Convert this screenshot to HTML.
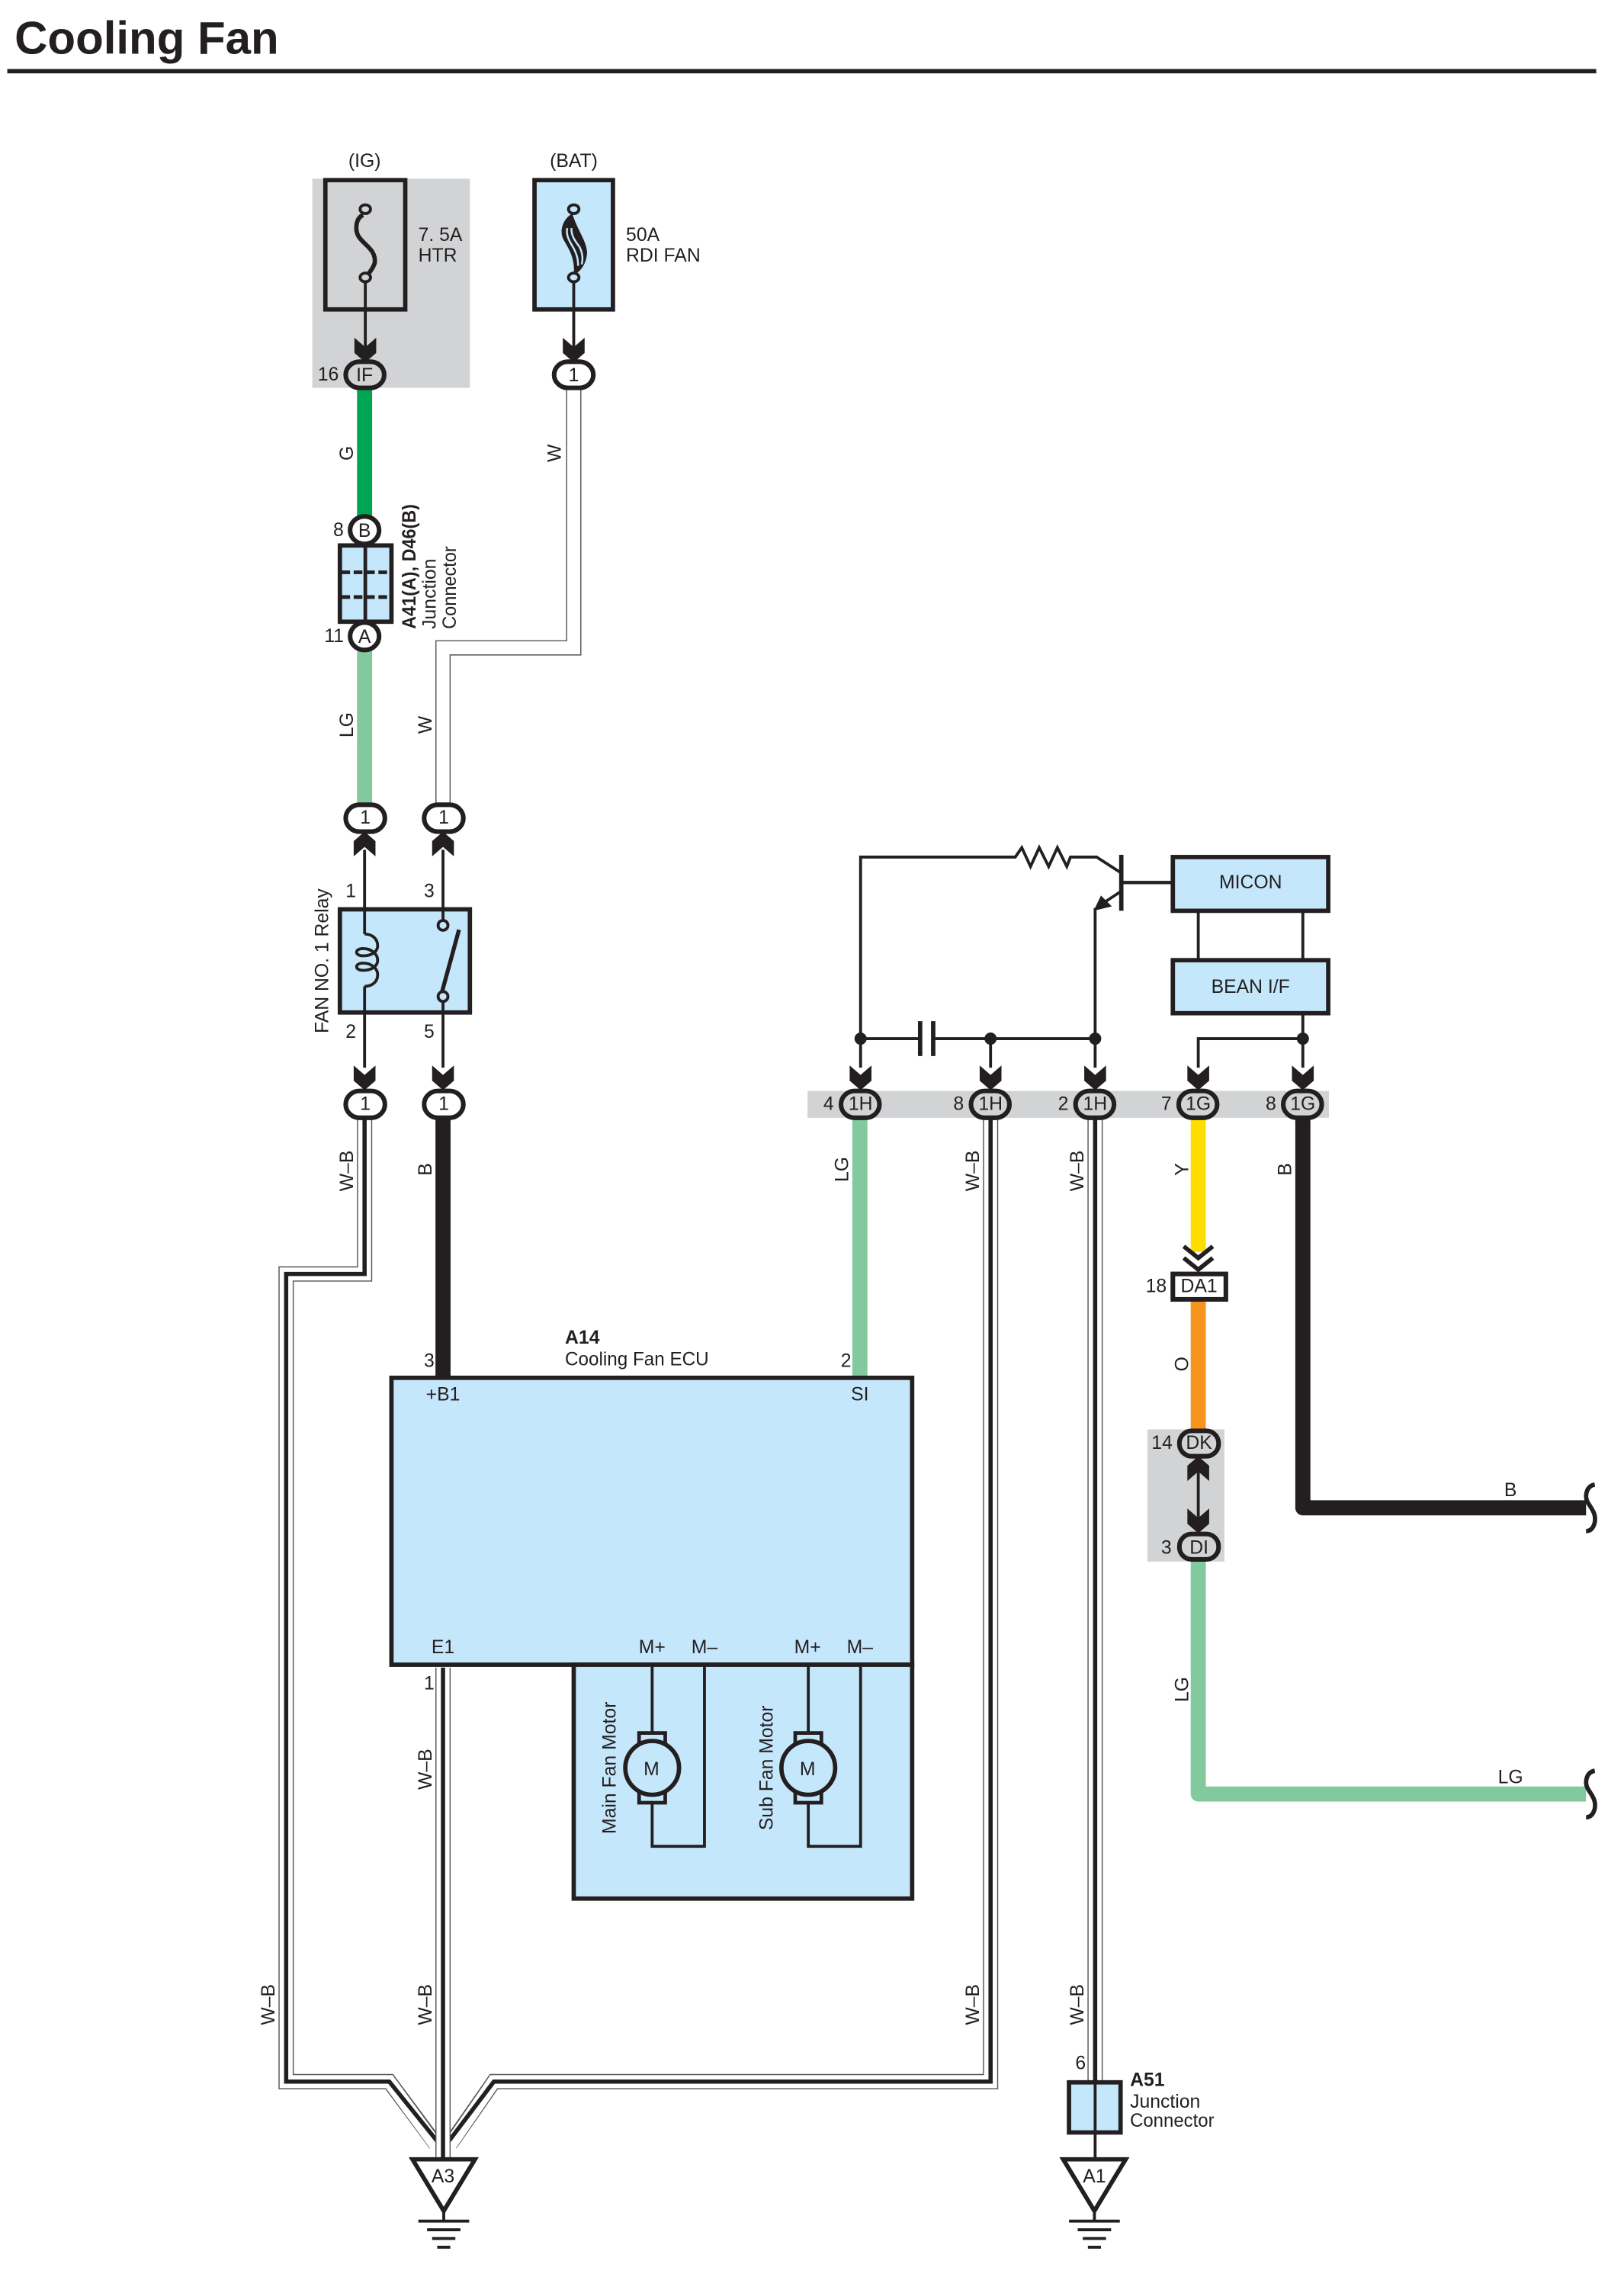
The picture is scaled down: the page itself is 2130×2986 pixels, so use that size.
<!DOCTYPE html>
<html><head><meta charset="utf-8"><title>Cooling Fan</title>
<style>
html,body{margin:0;padding:0;background:#fff;width:2130px;height:2986px;overflow:hidden}
svg{display:block}
text{font-family:"Liberation Sans",sans-serif;font-size:13px;fill:#231f20}
.m{text-anchor:middle}
.b{font-weight:bold}
.k{fill:none;stroke:#231f20;stroke-width:2}
.t{fill:none;stroke:#231f20;stroke-width:3}
.o{fill:none;stroke:#555;stroke-width:10.5;stroke-linejoin:miter}
.w{fill:none;stroke:#fff;stroke-width:9;stroke-linejoin:miter}
.c{fill:none;stroke:#231f20;stroke-width:2.9;stroke-linejoin:miter}
.bl{fill:#c5e7fb;stroke:#231f20;stroke-width:3}
.cn{fill:#fff;stroke:#231f20;stroke-width:3.2}
.cg{fill:#d1d3d4;stroke:#231f20;stroke-width:3.2}
</style></head><body>
<svg xmlns="http://www.w3.org/2000/svg" width="2130" height="2986" viewBox="0 0 1118.1 1567.5">
<defs>
<path id="ad" d="M-7.500,-15.500 L0,-9 L7.500,-15.500 L7.500,-5 L0,1.500 L-7.500,-5 Z" fill="#231f20"/>
<path id="au" d="M-7.500,15.500 L0,9 L7.500,15.500 L7.500,5 L0,-1.500 L-7.500,5 Z" fill="#231f20"/>
</defs>
<rect width="1118.1" height="1567.5" fill="#fff"/>
<!-- title -->
<text x="10" y="37" class="b" style="font-size:31.5px">Cooling Fan</text>
<rect x="5" y="47.5" width="1094" height="3" fill="#231f20"/>
<!-- gray backgrounds -->
<rect x="215" y="123" width="108.500" height="144" fill="#d1d3d4"/>
<rect x="556" y="751" width="359" height="18.500" fill="#d1d3d4"/>
<rect x="790" y="984" width="53" height="91" fill="#d1d3d4"/>
<!-- fat wires -->
<g fill="none" stroke-width="10.400">
<path d="M251,267V357" stroke="#00a651"/>
<path d="M251,447V553" stroke="#82c99d"/>
<path d="M305,770V950" stroke="#231f20"/>
<path d="M592,770V950" stroke="#82c99d"/>
<path d="M825,770V862" stroke="#ffdd00"/>
<path d="M825,895V985" stroke="#f7941d"/>
<path d="M825,1074V1235H1092" stroke="#82c99d" stroke-linejoin="round"/>
<path d="M897,770V1038H1092" stroke="#231f20" stroke-linejoin="round"/>
</g>
<!-- W wire -->
<path class="o" d="M395,268V446H305V553"/><path class="w" d="M395,268V446H305V553"/>
<!-- W-B wires -->
<path class="o" d="M251,770V877H197V1433H268L300,1476"/>
<path class="o" d="M682,770V1433H340L310,1476"/>
<path class="w" d="M251,769V877H197V1433H268L301,1478"/>
<path class="w" d="M682,769V1433H340L309,1478"/>
<path class="c" d="M251,770V877H197V1433H268L301,1474"/>
<path class="c" d="M682,770V1433H340L309,1474"/>
<path class="o" d="M305,1148V1486"/><path class="w" d="M305,1148V1486"/><path class="c" d="M305,1148V1486"/>
<path class="o" d="M754,770V1433"/><path class="w" d="M754,770V1433"/><path class="c" d="M754,770V1433"/>
<!-- fuses -->
<rect x="224" y="124" width="55" height="89" fill="#d1d3d4" stroke="#231f20" stroke-width="3"/>
<rect x="368" y="124" width="54" height="89" class="bl"/>
<path class="k" style="stroke-width:3" d="M250,148C245,150 244,158 247,163C251,169 259,172 258,181C257,184 255,187 253,189"/>
<ellipse cx="251.500" cy="144" rx="3.600" ry="3" fill="#d1d3d4" stroke="#231f20" stroke-width="2"/>
<ellipse cx="251.500" cy="191" rx="3.600" ry="3" fill="#d1d3d4" stroke="#231f20" stroke-width="2"/>
<path class="k" d="M251.500,194V245"/><use href="#ad" x="251.500" y="248"/>
<path d="M394,147C387,151 385,160 388,165C392,172 396,178 395,189C401,187 405,178 404,172C403,165 397,157 394,147Z" fill="#231f20"/>
<g fill="none" stroke="#c5e7fb" stroke-width="1.300">
<path d="M390.500,157C389.500,162 392,166 395,171C397,175 398,178 398,183"/>
<path d="M393.500,157C393,162 396,166 399,170C401,174 401.500,178 400.500,182"/>
</g>
<ellipse cx="395" cy="144" rx="3.600" ry="3" fill="#c5e7fb" stroke="#231f20" stroke-width="2"/>
<ellipse cx="395" cy="191" rx="3.600" ry="3" fill="#c5e7fb" stroke="#231f20" stroke-width="2"/>
<path class="k" d="M395,194V245"/><use href="#ad" x="395" y="248"/>
<rect x="238" y="249" width="26.500" height="18" rx="9.500" class="cg"/>
<rect x="381.500" y="249" width="27" height="18" rx="9.500" class="cn"/>
<!-- junction A41 -->
<rect x="234" y="375.500" width="35.500" height="52.500" class="bl"/>
<path class="k" style="stroke-width:2.500" d="M251.500,376V428"/>
<path class="k" d="M235,394H270M235,411H270" stroke-dasharray="6,2.500" style="stroke-width:2.500"/>
<ellipse cx="251" cy="365" rx="10" ry="9.500" class="cn"/>
<ellipse cx="251" cy="438" rx="10" ry="9.500" class="cn"/>
<!-- relay -->
<rect x="234" y="626" width="89.500" height="71" class="bl"/>
<path class="k" d="M251,585V643M251,679V735M305,585V634M305,690V735"/>
<path class="k" d="M251,643C257,643 260,647 260,651C260,655 256,658 250,658C244,658 244,653 250,653C256,653 260,657 260,661C260,665 256,668 250,668C244,668 244,663 250,663C256,663 260,667 260,671C260,676 256,679 251,679"/>
<path class="k" d="M316,640L304,684" style="stroke-width:2.800"/>
<circle cx="305" cy="637" r="3.400" fill="#c5e7fb" stroke="#231f20" stroke-width="2"/>
<circle cx="305" cy="686" r="3.400" fill="#c5e7fb" stroke="#231f20" stroke-width="2"/>
<use href="#au" x="251" y="574"/><use href="#au" x="305" y="574"/>
<use href="#ad" x="251" y="749"/><use href="#ad" x="305" y="749"/>
<rect x="238" y="554" width="27" height="18.500" rx="9.500" class="cn"/>
<rect x="292" y="554" width="27" height="18.500" rx="9.500" class="cn"/>
<rect x="238" y="751" width="27" height="18.500" rx="9.500" class="cn"/>
<rect x="292" y="751" width="27" height="18.500" rx="9.500" class="cn"/>
<!-- ECU -->
<rect x="269.500" y="948.500" width="358.500" height="197.500" class="bl"/>
<rect x="395" y="1146" width="233" height="161" class="bl"/>
<path class="k" d="M449,1147V1271H485V1147M556.500,1147V1271H592.500V1147"/>
<rect x="440" y="1193" width="18" height="48" fill="#c5e7fb" stroke="#231f20" stroke-width="2.500"/>
<circle cx="449" cy="1217" r="18.500" fill="#c5e7fb" stroke="#231f20" stroke-width="3"/>
<rect x="547.500" y="1193" width="18" height="48" fill="#c5e7fb" stroke="#231f20" stroke-width="2.500"/>
<circle cx="556.500" cy="1217" r="18.500" fill="#c5e7fb" stroke="#231f20" stroke-width="3"/>
<!-- control circuit -->
<path class="k" d="M592.500,735V590H699L703.500,583.500L709.500,596.500L715.500,583.500L722,596.500L728,583.500L734.500,596.500L737,590H755L772,601"/>
<path class="t" d="M772,588.500V627"/>
<path class="k" style="stroke-width:2.300" d="M772,607.500H807"/>
<path class="k" d="M772,613.500L756,624M754,625V735"/>
<path d="M753,627L758,616.500L765.500,624Z" fill="#231f20"/>
<rect x="807.500" y="590" width="107" height="37" class="bl"/>
<rect x="807.500" y="661" width="107" height="36.500" class="bl"/>
<path class="k" d="M825,627V661M897,627V661M897,698V735M825,735V715H897"/>
<path class="k" d="M592.500,715H633M642,715H754M682,715V735"/>
<path class="t" d="M633.500,703V727M642.500,703V727"/>
<circle cx="592.500" cy="715" r="4.200" fill="#231f20"/><circle cx="682" cy="715" r="4.200" fill="#231f20"/>
<circle cx="754" cy="715" r="4.200" fill="#231f20"/><circle cx="897" cy="715" r="4.200" fill="#231f20"/>
<use href="#ad" x="592.500" y="749"/><use href="#ad" x="682" y="749"/><use href="#ad" x="754" y="749"/><use href="#ad" x="825" y="749"/><use href="#ad" x="897" y="749"/>
<rect x="579" y="751" width="26.500" height="18.500" rx="9.500" class="cg"/>
<rect x="668.500" y="751" width="26.500" height="18.500" rx="9.500" class="cg"/>
<rect x="740.500" y="751" width="26.500" height="18.500" rx="9.500" class="cg"/>
<rect x="811.500" y="751" width="26.500" height="18.500" rx="9.500" class="cg"/>
<rect x="883.500" y="751" width="26.500" height="18.500" rx="9.500" class="cg"/>
<!-- DA1 / DK / DI -->
<path class="t" d="M815,858L825,866L835,858M815,866L825,874L835,866"/>
<rect x="807.500" y="877" width="36.500" height="17.500" class="cn"/>
<rect x="812" y="985" width="27" height="17.500" rx="8.500" class="cg"/>
<rect x="812" y="1056" width="27" height="17.500" rx="8.500" class="cg"/>
<path class="k" d="M825,1012V1046"/>
<use href="#au" x="825" y="1004"/><use href="#ad" x="825" y="1054"/>
<!-- squiggles -->
<path class="t" d="M1098,1022C1092,1023 1091,1030 1093,1034C1096,1039 1099,1042 1098,1048C1097,1052 1095,1054 1092,1054"/>
<path class="t" d="M1098,1219C1092,1220 1091,1227 1093,1231C1096,1236 1099,1239 1098,1245C1097,1249 1095,1251 1092,1251"/>
<!-- A51 -->
<rect x="736" y="1433.500" width="35.500" height="34.500" class="bl"/>
<path class="k" d="M754,1433V1486"/>
<!-- grounds -->
<path d="M284,1486.500H327L305.500,1522Z" fill="#fff" stroke="#231f20" stroke-width="3"/>
<path d="M732,1486.500H775L753.500,1522Z" fill="#fff" stroke="#231f20" stroke-width="3"/>
<path class="k" d="M305.500,1522V1529M753.500,1522V1529"/>
<path class="k" d="M288,1529H323M294,1535H317M297.500,1541H313.500M301,1547H310M736,1529H771M742,1535H765M745.500,1541H761.500M749,1547H758"/>
<!-- labels -->
<text x="251" y="115" class="m">(IG)</text>
<text x="395" y="115" class="m">(BAT)</text>
<text x="288" y="166">7. 5A</text><text x="288" y="180">HTR</text>
<text x="431" y="166">50A</text><text x="431" y="180">RDI FAN</text>
<text x="226" y="262" class="m">16</text><text x="251" y="262.500" class="m">IF</text><text x="395" y="262.500" class="m">1</text>
<text x="233" y="369" class="m">8</text><text x="251" y="369.500" class="m">B</text>
<text x="230" y="442" class="m">11</text><text x="251" y="442.500" class="m">A</text>
<text x="251.500" y="567" class="m">1</text><text x="305.500" y="567" class="m">1</text>
<text x="251.500" y="764" class="m">1</text><text x="305.500" y="764" class="m">1</text>
<text x="241.500" y="617.500" class="m">1</text><text x="295.500" y="617.500" class="m">3</text>
<text x="241.500" y="714.500" class="m">2</text><text x="295.500" y="714.500" class="m">5</text>
<text x="570.500" y="764" class="m">4</text><text x="660" y="764" class="m">8</text><text x="732" y="764" class="m">2</text><text x="803" y="764" class="m">7</text><text x="875" y="764" class="m">8</text>
<text x="592.500" y="764" class="m">1H</text><text x="682" y="764" class="m">1H</text><text x="754" y="764" class="m">1H</text><text x="825" y="764" class="m">1G</text><text x="897" y="764" class="m">1G</text>
<text x="861" y="611.500" class="m">MICON</text><text x="861" y="683.500" class="m">BEAN I/F</text>
<text x="796" y="889.500" class="m">18</text><text x="825.500" y="889.500" class="m">DA1</text>
<text x="800" y="997.500" class="m">14</text><text x="825.500" y="997.500" class="m">DK</text>
<text x="803" y="1069.500" class="m">3</text><text x="825.500" y="1069.500" class="m">DI</text>
<text x="1040" y="1030" class="m">B</text><text x="1040" y="1227.500" class="m">LG</text>
<text x="389" y="925" class="b">A14</text><text x="389" y="940" textLength="99" lengthAdjust="spacingAndGlyphs">Cooling Fan ECU</text>
<text x="295.500" y="941" class="m">3</text><text x="582.500" y="941" class="m">2</text>
<text x="305" y="964" class="m">+B1</text><text x="592" y="964" class="m">SI</text>
<text x="305" y="1138" class="m">E1</text>
<text x="449" y="1138" class="m">M+</text><text x="485" y="1138" class="m">M–</text><text x="556" y="1138" class="m">M+</text><text x="592" y="1138" class="m">M–</text>
<text x="295.500" y="1163" class="m">1</text>
<text x="448.500" y="1222" class="m">M</text><text x="556" y="1222" class="m">M</text>
<text x="744" y="1424.500" class="m">6</text>
<text x="778" y="1436" class="b">A51</text><text x="778" y="1451">Junction</text><text x="778" y="1464" textLength="58" lengthAdjust="spacingAndGlyphs">Connector</text>
<text x="305" y="1502.500" class="m">A3</text><text x="753.500" y="1502.500" class="m">A1</text>
<!-- rotated labels -->
<text class="m" transform="translate(243,312) rotate(-90)">G</text>
<text class="m" transform="translate(386,312) rotate(-90)">W</text>
<text class="m" transform="translate(243,499) rotate(-90)">LG</text>
<text class="m" transform="translate(297,499) rotate(-90)">W</text>
<text class="m" transform="translate(226,661.500) rotate(-90)">FAN NO. 1 Relay</text>
<text class="m" transform="translate(243,806) rotate(-90)">W–B</text>
<text class="m" transform="translate(297,805) rotate(-90)">B</text>
<text class="m" transform="translate(584,805) rotate(-90)">LG</text>
<text class="m" transform="translate(674,806) rotate(-90)">W–B</text>
<text class="m" transform="translate(746,806) rotate(-90)">W–B</text>
<text class="m" transform="translate(818,805) rotate(-90)">Y</text>
<text class="m" transform="translate(889,805) rotate(-90)">B</text>
<text class="m" transform="translate(818,939) rotate(-90)">O</text>
<text class="m" transform="translate(818,1163) rotate(-90)">LG</text>
<text class="m" transform="translate(297,1218) rotate(-90)">W–B</text>
<text class="m" transform="translate(189,1380) rotate(-90)">W–B</text>
<text class="m" transform="translate(297,1380) rotate(-90)">W–B</text>
<text class="m" transform="translate(674,1380) rotate(-90)">W–B</text>
<text class="m" transform="translate(746,1380) rotate(-90)">W–B</text>
<text class="m" transform="translate(424,1217) rotate(-90)">Main Fan Motor</text>
<text class="m" transform="translate(532,1217) rotate(-90)">Sub Fan Motor</text>
<text class="b" transform="translate(286,433) rotate(-90)" textLength="86" lengthAdjust="spacingAndGlyphs">A41(A), D46(B)</text>
<text transform="translate(300,433) rotate(-90)">Junction</text>
<text transform="translate(314,433) rotate(-90)" textLength="57" lengthAdjust="spacingAndGlyphs">Connector</text>
</svg>
</body></html>
